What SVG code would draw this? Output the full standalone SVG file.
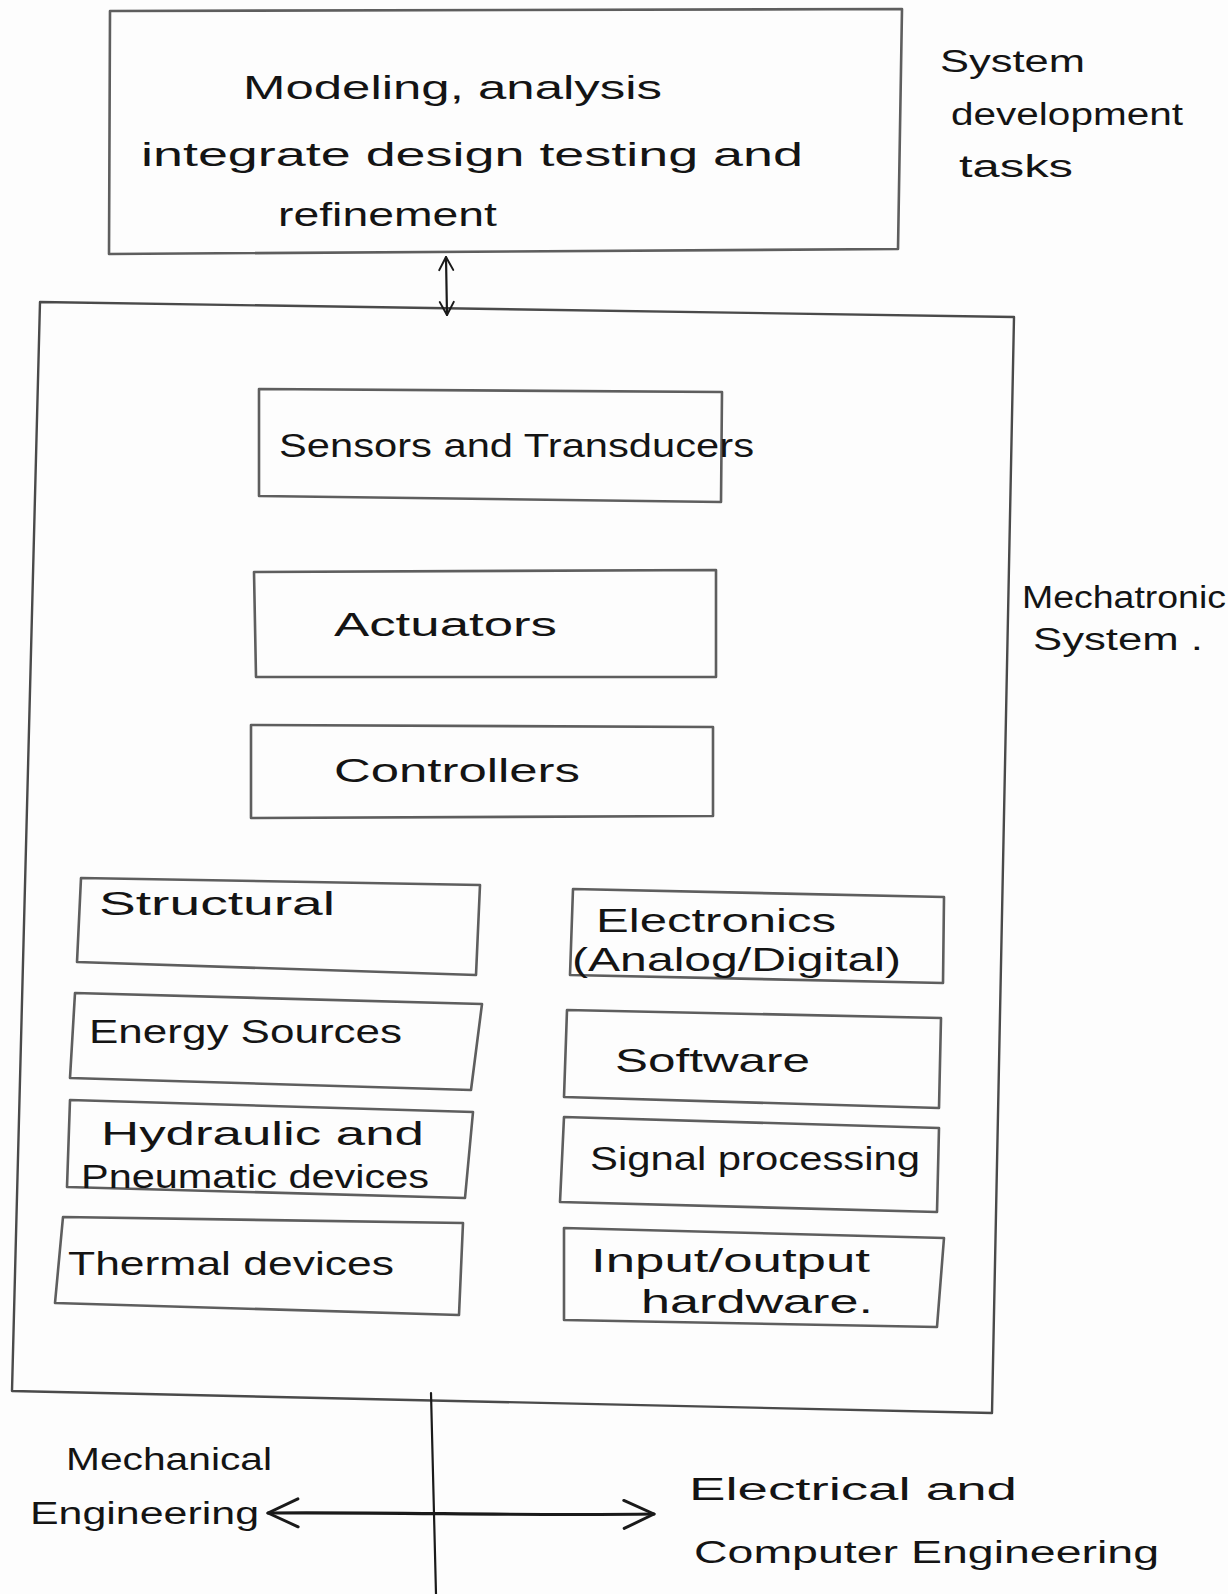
<svg xmlns="http://www.w3.org/2000/svg" width="1228" height="1594" viewBox="0 0 1228 1594">
  <style>
    .box { fill: none; stroke: #5e5e5e; stroke-width: 2.6; stroke-linejoin: round; }
    .frame { fill: none; stroke: #4a4a4a; stroke-width: 2.4; stroke-linejoin: round; }
    .lbl { font-family: "Liberation Sans", "DejaVu Sans", sans-serif; font-size: 33px; fill: #141414; }
    .note { font-family: "Liberation Sans", "DejaVu Sans", sans-serif; font-size: 31px; fill: #141414; }
    .wire { fill: none; stroke: #1a1a1a; stroke-width: 2.2; stroke-linecap: round; }
    .wire-heavy { fill: none; stroke: #1a1a1a; stroke-width: 3.2; stroke-linecap: round; }
  </style>
  <defs>
    <marker id="chev-small" viewBox="-16 -9 18 18" refX="0" refY="0" markerWidth="18" markerHeight="18" markerUnits="userSpaceOnUse" orient="auto-start-reverse">
      <path d="M-13,-7 L0,0 L-13,7" fill="none" stroke="#1a1a1a" stroke-width="2" stroke-linecap="round" stroke-linejoin="round"/>
    </marker>
    <marker id="chev-large" viewBox="-34 -18 36 36" refX="0" refY="0" markerWidth="36" markerHeight="36" markerUnits="userSpaceOnUse" orient="auto-start-reverse">
      <path d="M-30,-14 L0,0 L-30,14" fill="none" stroke="#1a1a1a" stroke-width="3" stroke-linecap="round" stroke-linejoin="round"/>
    </marker>
  </defs>

  <rect x="0" y="0" width="1228" height="1594" fill="#fdfdfd"/>

  <!-- development tasks box -->
  <g id="dev-tasks">
    <polygon class="box" points="110,11 902,9 898,249 109,254"/>
    <text class="lbl" x="243" y="99" textLength="419" lengthAdjust="spacingAndGlyphs">Modeling, analysis</text>
    <text class="lbl" x="141" y="166" textLength="662" lengthAdjust="spacingAndGlyphs">integrate design testing and</text>
    <text class="lbl" x="278" y="226" textLength="219" lengthAdjust="spacingAndGlyphs">refinement</text>
  </g>

  <g id="label-system-dev">
    <text class="note" x="940" y="72" textLength="145" lengthAdjust="spacingAndGlyphs">System</text>
    <text class="note" x="951" y="125" textLength="232" lengthAdjust="spacingAndGlyphs">development</text>
    <text class="note" x="959" y="177" textLength="114" lengthAdjust="spacingAndGlyphs">tasks</text>
  </g>

  <!-- mechatronic system frame -->
  <g id="mechatronic-system">
    <polygon class="frame" points="40,302 1014,317 992,1413 12,1391"/>
  </g>

  <g id="label-mechatronic">
    <text class="note" x="1022" y="608" textLength="204" lengthAdjust="spacingAndGlyphs">Mechatronic</text>
    <text class="note" x="1033" y="650" textLength="170" lengthAdjust="spacingAndGlyphs">System .</text>
  </g>

  <g id="sensors">
    <polygon class="box" points="259,389 722,392 721,502 259,496"/>
    <text class="lbl" x="279" y="457" textLength="475" lengthAdjust="spacingAndGlyphs">Sensors and Transducers</text>
  </g>

  <g id="actuators">
    <polygon class="box" points="254,572 716,570 716,677 256,677"/>
    <text class="lbl" x="334" y="636" textLength="223" lengthAdjust="spacingAndGlyphs">Actuators</text>
  </g>

  <g id="controllers">
    <polygon class="box" points="251,725 713,727 713,816 251,818"/>
    <text class="lbl" x="334" y="782" textLength="246" lengthAdjust="spacingAndGlyphs">Controllers</text>
  </g>

  <!-- mechanical side -->
  <g id="structural">
    <polygon class="box" points="81,878 480,885 476,975 77,962"/>
    <text class="lbl" x="99" y="915" textLength="236" lengthAdjust="spacingAndGlyphs">Structural</text>
  </g>

  <g id="energy-sources">
    <polygon class="box" points="75,993 482,1004 471,1090 70,1078"/>
    <text class="lbl" x="89" y="1043" textLength="313" lengthAdjust="spacingAndGlyphs">Energy Sources</text>
  </g>

  <g id="hydraulic-pneumatic">
    <polygon class="box" points="70,1100 473,1112 465,1198 67,1187"/>
    <text class="lbl" x="101" y="1145" textLength="323" lengthAdjust="spacingAndGlyphs">Hydraulic and</text>
    <text class="lbl" x="81" y="1188" textLength="348" lengthAdjust="spacingAndGlyphs">Pneumatic devices</text>
  </g>

  <g id="thermal">
    <polygon class="box" points="63,1217 463,1223 459,1315 55,1303"/>
    <text class="lbl" x="68" y="1275" textLength="326" lengthAdjust="spacingAndGlyphs">Thermal devices</text>
  </g>

  <!-- electrical / computing side -->
  <g id="electronics">
    <polygon class="box" points="573,889 944,897 943,983 570,975"/>
    <text class="lbl" x="596" y="932" textLength="240" lengthAdjust="spacingAndGlyphs">Electronics</text>
    <text class="lbl" x="572" y="971" textLength="329" lengthAdjust="spacingAndGlyphs">(Analog/Digital)</text>
  </g>

  <g id="software">
    <polygon class="box" points="567,1010 941,1018 939,1108 564,1097"/>
    <text class="lbl" x="615" y="1072" textLength="195" lengthAdjust="spacingAndGlyphs">Software</text>
  </g>

  <g id="signal-processing">
    <polygon class="box" points="564,1117 939,1128 937,1212 560,1202"/>
    <text class="lbl" x="590" y="1170" textLength="330" lengthAdjust="spacingAndGlyphs">Signal processing</text>
  </g>

  <g id="io-hardware">
    <polygon class="box" points="564,1228 944,1238 937,1327 564,1320"/>
    <text class="lbl" x="591" y="1272" textLength="279" lengthAdjust="spacingAndGlyphs">Input/output</text>
    <text class="lbl" x="641" y="1313" textLength="232" lengthAdjust="spacingAndGlyphs">hardware.</text>
  </g>

  <!-- discipline labels -->
  <g id="label-mechanical">
    <text class="note" x="66" y="1470" textLength="206" lengthAdjust="spacingAndGlyphs">Mechanical</text>
    <text class="note" x="30" y="1524" textLength="229" lengthAdjust="spacingAndGlyphs">Engineering</text>
  </g>

  <g id="label-electrical">
    <text class="note" x="689" y="1500" textLength="328" lengthAdjust="spacingAndGlyphs">Electrical and</text>
    <text class="note" x="694" y="1563" textLength="465" lengthAdjust="spacingAndGlyphs">Computer Engineering</text>
  </g>

  <!-- connectors -->
  <g id="connectors">
    <line class="wire" x1="446" y1="257" x2="447" y2="315" marker-start="url(#chev-small)" marker-end="url(#chev-small)"/>
    <line class="wire" x1="431" y1="1393" x2="436" y2="1594"/>
    <path class="wire-heavy" d="M268,1513 C400,1512 520,1516 654,1514" marker-start="url(#chev-large)" marker-end="url(#chev-large)"/>
  </g>
</svg>
